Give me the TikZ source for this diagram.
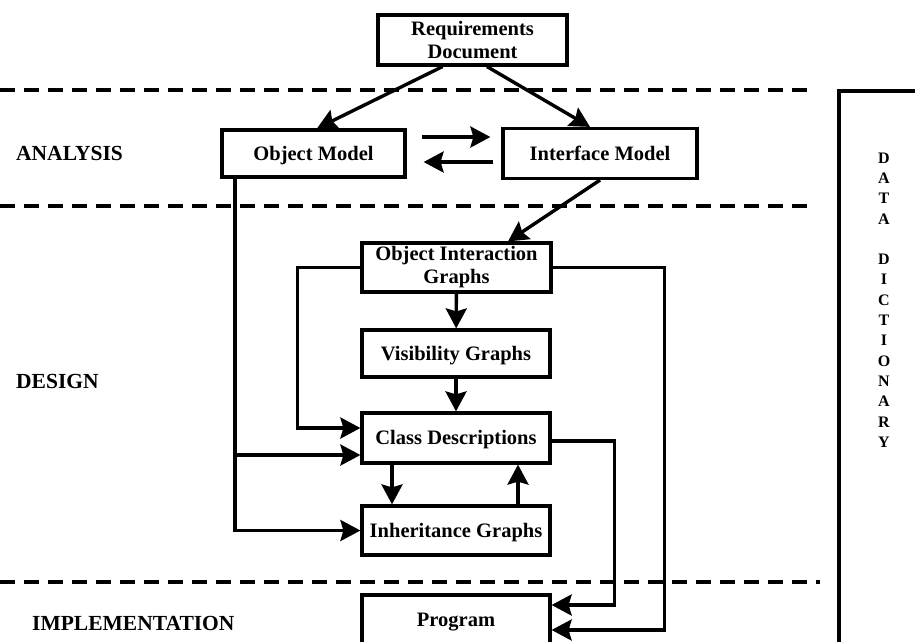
\documentclass[tikz,border=0pt]{standalone}
\usepackage{fontspec}
\setmainfont{Liberation Serif}
\usetikzlibrary{arrows.meta,calc}
\begin{document}
\begin{tikzpicture}[x=1pt,y=-1pt,
  box/.style={draw,line width=3.2pt,inner sep=0pt,align=center,
              font=\bfseries\fontsize{20.5}{23}\selectfont},
  oneline/.style={text height=13.5pt,text depth=0pt},
  flow/.style={line width=3.4pt,-{Stealth[length=20pt,width=21pt,inset=3pt]}},
  sep/.style={line width=3.2pt,dash pattern=on 15pt off 9pt},
  phase/.style={anchor=west,inner sep=0pt,font=\bfseries\fontsize{21.5}{24}\selectfont}]
\clip (0,0) rectangle (915,641);

% phase separators
\draw[sep] (0,90) -- (810,90);
\draw[sep] (0,206) -- (810,206);
\draw[sep] (0,582) -- (820,582);

% phase names
\node[phase] (lan) at (16,153) {ANALYSIS};
\node[phase] (lde) at (16,381) {DESIGN};
\node[phase] (lim) at (32,623) {IMPLEMENTATION};

% data dictionary column
\draw[line width=3.2pt] (839,700) -- (839,91) -- (1000,91);
\node[inner sep=0pt,align=center,font=\bfseries\fontsize{16}{20.3}\selectfont] (dd) at (884,300)
  {D\\A\\T\\A\\[20.3pt]D\\I\\C\\T\\I\\O\\N\\A\\R\\Y};

% method steps
\node[box,minimum width=189pt,minimum height=50pt] (req) at (472.5,40) {Requirements\\Document};
\node[box,oneline,minimum width=183pt,minimum height=47pt] (om) at (313.5,153.5) {Object Model};
\node[box,oneline,minimum width=194pt,minimum height=50pt] (im) at (600,153.5) {Interface Model};
\node[box,minimum width=189pt,minimum height=49pt] (oig) at (456.5,267.5) {Object Interaction\\Graphs};
\node[box,oneline,minimum width=188pt,minimum height=47pt] (vg) at (456,353.5) {Visibility Graphs};
\node[box,oneline,minimum width=188pt,minimum height=50pt] (cd) at (456,438) {Class Descriptions};
\node[box,oneline,minimum width=188pt,minimum height=49pt] (ig) at (456,530.5) {Inheritance Graphs};
\node[box,oneline,minimum width=188pt,minimum height=50pt] (prog) at (456,620) {Program};

% analysis
\draw[flow] ([xshift=-30pt]req.south) -- ([xshift=3.5pt]om.north);
\draw[flow] ([xshift=14.5pt]req.south) -- ([xshift=-10pt]im.north);
\draw[flow] ([xshift=15pt,yshift=16.5pt]om.east) -- ([xshift=-11pt,yshift=16.5pt]im.west);
\draw[flow] ([xshift=-8pt,yshift=-8.5pt]im.west) -- ([xshift=17pt,yshift=-8.5pt]om.east);
\draw[flow] (im.south) -- ([xshift=51.5pt]oig.north);

% design
\draw[flow] (oig) -- (vg);
\draw[flow] (vg) -- (cd);
\draw[flow] ([xshift=-64pt]cd.south) -- ([xshift=-64pt]ig.north);
\draw[flow] ([xshift=62pt]ig.north) -- ([xshift=62pt]cd.south);
\draw[flow] (oig.west) -- ++(-63,0) |- ([yshift=10pt]cd.west);

\coordinate (trunk) at ([xshift=-78.5pt]om.south);
\coordinate (cdlow) at ([yshift=-17pt]cd.west);
\draw[flow] (trunk) |- (ig.west);
\draw[flow] (trunk |- cdlow) -- (cdlow);

% implementation
\draw[flow] ([yshift=-3pt]cd.east) -- ++(63,0) |- ([yshift=15pt]prog.east);
\draw[flow] (oig.east) -- ++(112,0) |- ([yshift=-10pt]prog.east);
\end{tikzpicture}
\end{document}
